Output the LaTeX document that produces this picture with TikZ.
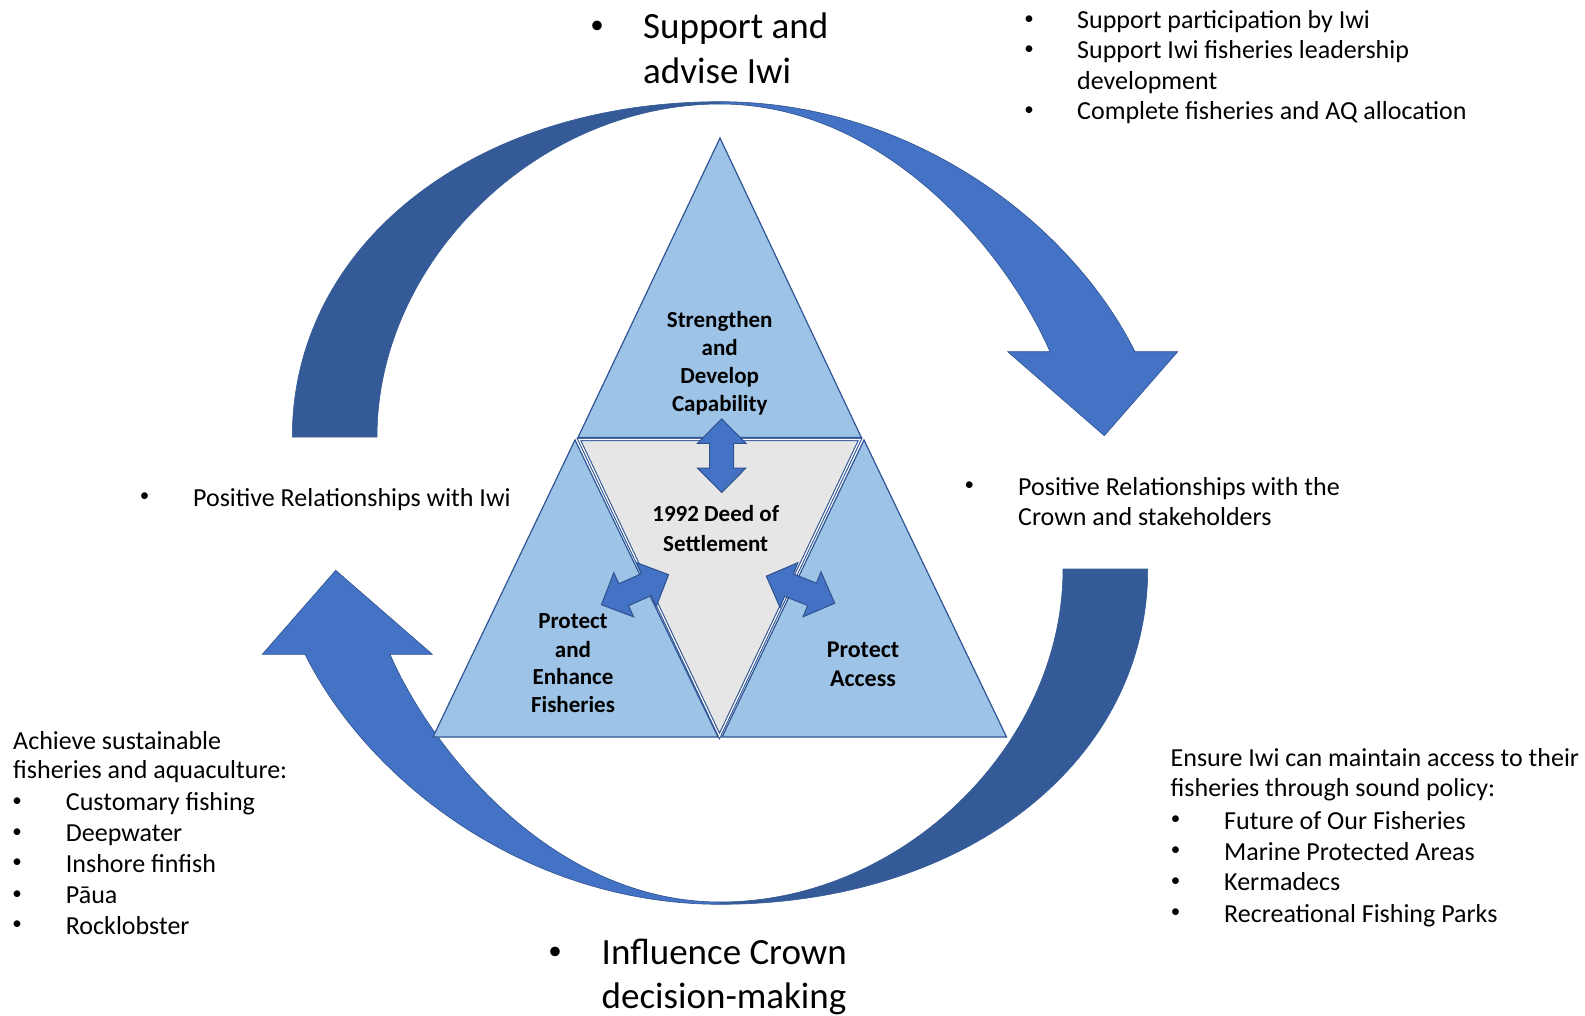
\documentclass[tikz,border=0pt]{standalone}
\usepackage{fontspec}
\setmainfont{Carlito}
\definecolor{ringlight}{HTML}{4472C4}
\definecolor{ringdark}{HTML}{345A98}
\definecolor{trifill}{HTML}{9DC3E6}
\definecolor{tristroke}{HTML}{2F5597}
\definecolor{greyfill}{HTML}{E7E6E6}
\definecolor{arrowstroke}{HTML}{2F528F}
\newcommand{\RingPaths}{%
  \fill[ringdark, draw=ringdark, line width=0.6pt]
    (292.3,437) .. controls (292.3,244.2) and (474.1,101.7) .. (720,101.7)
    -- (720,104) .. controls (538.2,104) and (377,260.5) .. (377,437) -- cycle;
  \fill[ringlight, draw=arrowstroke, line width=0.6pt]
    (720,101.7) .. controls (911,101.7) and (1070.2,222.1) .. (1135,351.7)
    -- (1177.7,351.7) -- (1104.3,435.7) -- (1007.7,351.7) -- (1050,351.7)
    .. controls (1006,250.8) and (884,104) .. (720,104) -- cycle;
}
\newcommand{\DblArrow}[3]{%
  \draw[dblarrow, shift={(#1,#2)}, rotate=#3]
    (-36.8,0) -- (-12.4,24.2) -- (-12.4,12) -- (12.4,12) -- (12.4,24.2) -- (36.8,0)
    -- (12.4,-24.2) -- (12.4,-12) -- (-12.4,-12) -- (-12.4,-24.2) -- cycle;
}
\tikzset{
  smalltxt/.style={anchor=base west, inner sep=0pt, font=\fontsize{26}{31}\selectfont},
  smallbul/.style={anchor=center, inner sep=0pt, font=\fontsize{19}{23}\selectfont},
  bigtxt/.style={anchor=base west, inner sep=0pt, font=\fontsize{37}{44}\selectfont},
  bigbul/.style={anchor=center, inner sep=0pt, font=\fontsize{27}{32}\selectfont},
  lab/.style={anchor=base, inner sep=0pt, font=\bfseries\fontsize{23}{28}\selectfont},
  labbig/.style={anchor=base, inner sep=0pt, font=\bfseries\fontsize{24}{29}\selectfont},
  tri/.style={fill=trifill, draw=tristroke, line width=1.2pt, line join=miter},
  greytri/.style={fill=greyfill, draw=tristroke, line width=1.1pt, double=white, double distance=1.2pt, line join=miter},
  dblarrow/.style={fill=ringlight, draw=arrowstroke, line width=1pt, line join=miter},
}
\begin{document}
\begin{tikzpicture}[x=1pt, y=-1pt]
\useasboundingbox (0,0) rectangle (1585,1016);
\fill[white] (0,0) rectangle (1585,1016);

% circular arrows
\RingPaths
\begin{scope}[rotate around={180:(720,503)}]
  \RingPaths
\end{scope}

% triangles
\draw[tri] (575,440) -- (718,737) -- (433,737) -- cycle;
\draw[tri] (864,440) -- (1006.5,737) -- (722,737) -- cycle;
\draw[tri] (720,138) -- (861.3,437.4) -- (578,437.4) -- cycle;
\draw[greytri] (579,439.5) -- (860,439.5) -- (719.5,736) -- cycle;

% double-headed block arrows
\DblArrow{721.7}{455.7}{90}
\DblArrow{635}{589.7}{24.1}
\DblArrow{800.5}{589.7}{-21.6}

% triangle labels
\node[lab] (s1) at (719.7,327.5) {Strengthen};
\node[lab] (s2) at (719.7,355.5) {and};
\node[lab] (s3) at (719.7,383.5) {Develop};
\node[lab] (s4) at (719.7,411.5) {Capability};
\node[lab] (d1) at (715.7,521.5) {1992 Deed of};
\node[lab] (d2) at (715.7,551) {Settlement};
\node[lab] (f1) at (573,628.6) {Protect};
\node[lab] (f2) at (573,657) {and};
\node[lab] (f3) at (573,684.5) {Enhance};
\node[lab] (f4) at (573,712.5) {Fisheries};
\node[labbig] (a1) at (863,657) {Protect};
\node[labbig] (a2) at (863,686.5) {Access};

% top big text
\node[bigbul] (tb) at (597,27.3) {•};
\node[bigtxt] (tt1) at (643,38.3) {Support and};
\node[bigtxt] (tt2) at (643,83.3) {advise Iwi};

% bottom big text
\node[bigbul] (bb) at (555,953.3) {•};
\node[bigtxt] (bt1) at (601.5,964.5) {Influence Crown};
\node[bigtxt] (bt2) at (601.5,1008) {decision-making};

% top right list
\node[smallbul] (rb1) at (1029,19.8) {•};
\node[smalltxt] (r1) at (1077,28.3) {Support participation by Iwi};
\node[smallbul] (rb2) at (1029,49.8) {•};
\node[smalltxt] (r2) at (1077,58.3) {Support Iwi fisheries leadership};
\node[smalltxt] (r3) at (1077,89.3) {development};
\node[smallbul] (rb3) at (1029,111.5) {•};
\node[smalltxt] (r4) at (1077,120) {Complete fisheries and AQ allocation};

% left middle
\node[smallbul] (lb) at (144.6,497.5) {•};
\node[smalltxt] (l1) at (193,506) {Positive Relationships with Iwi};

% right middle
\node[smallbul] (mb) at (969.4,486.5) {•};
\node[smalltxt] (m1) at (1018,495) {Positive Relationships with the};
\node[smalltxt] (m2) at (1018,525.5) {Crown and stakeholders};

% bottom left list
\node[smalltxt] (q1) at (13,749) {Achieve sustainable};
\node[smalltxt] (q2) at (13,778.5) {fisheries and aquaculture:};
\node[smallbul] (qb1) at (17.2,802) {•};
\node[smalltxt] (q3) at (65.7,810.5) {Customary fishing};
\node[smallbul] (qb2) at (17.2,833) {•};
\node[smalltxt] (q4) at (65.7,841.5) {Deepwater};
\node[smallbul] (qb3) at (17.2,863.5) {•};
\node[smalltxt] (q5) at (65.7,872) {Inshore finfish};
\node[smallbul] (qb4) at (17.2,895) {•};
\node[smalltxt] (q6) at (65.7,903.5) {Pāua};
\node[smallbul] (qb5) at (17.2,925.5) {•};
\node[smalltxt] (q7) at (65.7,934) {Rocklobster};

% bottom right list
\node[smalltxt] (p1) at (1170.5,766) {Ensure Iwi can maintain access to their};
\node[smalltxt] (p2) at (1170.5,796.4) {fisheries through sound policy:};
\node[smallbul] (pb1) at (1175.6,820.5) {•};
\node[smalltxt] (p3) at (1224,829) {Future of Our Fisheries};
\node[smallbul] (pb2) at (1175.6,851.5) {•};
\node[smalltxt] (p4) at (1224,860) {Marine Protected Areas};
\node[smallbul] (pb3) at (1175.6,882) {•};
\node[smalltxt] (p5) at (1224,890.5) {Kermadecs};
\node[smallbul] (pb4) at (1175.6,913.5) {•};
\node[smalltxt] (p6) at (1224,922) {Recreational Fishing Parks};
\end{tikzpicture}
\end{document}
